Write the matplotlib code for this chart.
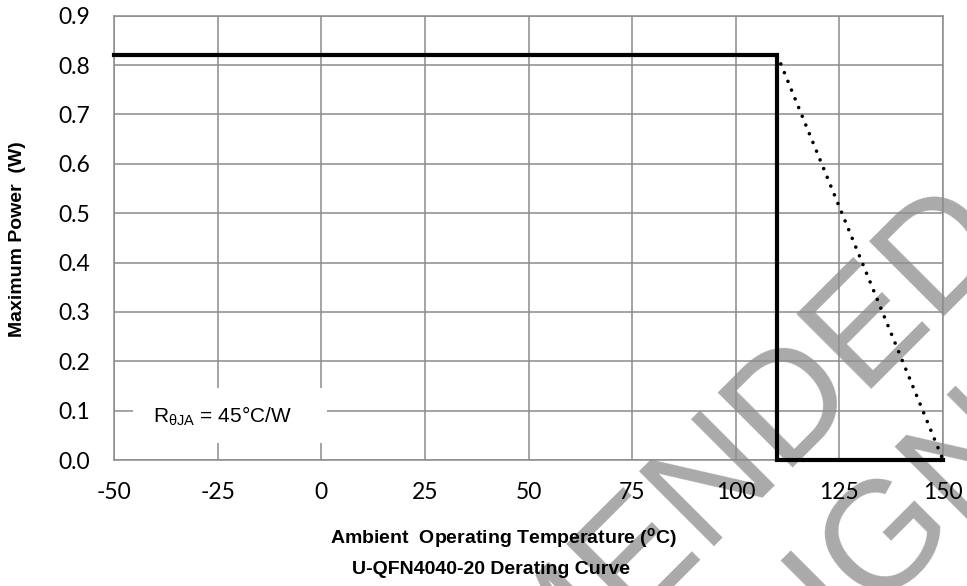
import matplotlib
matplotlib.use('Agg')
import matplotlib.pyplot as plt
from matplotlib.patches import Rectangle

# derating curve data
temp_limit = [-50, 110, 110, 150]
power_limit = [0.82, 0.82, 0.0, 0.0]
temp_derate = [110, 150]
power_derate = [0.82, 0.0]

x_ticks = [-50, -25, 0, 25, 50, 75, 100, 125, 150]
y_ticks = [0.0, 0.1, 0.2, 0.3, 0.4, 0.5, 0.6, 0.7, 0.8, 0.9]

grid_col = '#8c8c8c'

fig = plt.figure(figsize=(9.67, 5.86), dpi=100)
ax = fig.add_axes([0.1179, 0.215, 0.9752 - 0.1179, 0.9732 - 0.215])
ax.set_facecolor('none')

# watermark behind the chart
wm = dict(rotation=45, rotation_mode='anchor', ha='right', va='baseline',
          fontsize=111, color='#aaaaaa', family='Liberation Sans', zorder=-5)
fig.text(1014 / 967, 1 - 246 / 586, 'NOT RECOMMENDED', **wm)
fig.text(1040 / 967, 1 - 451 / 586, 'FOR NEW DESIGN', **wm)

ax.plot(temp_limit, power_limit, color='black', lw=3, solid_joinstyle='miter', zorder=4, clip_on=False)
ax.plot(temp_derate, power_derate, color='black', lw=2.6, linestyle=(0, (0.01, 2.6)),
        dash_capstyle='round', zorder=4, clip_on=False)

ax.set_xlim(-50, 150)
ax.set_ylim(0, 0.9)
ax.set_xticks(x_ticks)
ax.set_yticks(y_ticks)
ax.set_xticklabels([str(t) for t in x_ticks])
ax.set_yticklabels(['%.1f' % v for v in y_ticks])
ax.tick_params(length=0, labelsize=16.5, pad=17)
for lab in ax.get_xticklabels() + ax.get_yticklabels():
    lab.set_family('Lato')
ax.tick_params(axis='x', pad=16)

ax.grid(True, color=grid_col, lw=1.1)
ax.set_axisbelow(True)
for s in ax.spines.values():
    s.set_color(grid_col)
    s.set_linewidth(1.1)

# label box for the thermal resistance note
ax.add_patch(Rectangle((-45.4, 0.0344), 46.8, 0.1115, fc='white', ec='none', zorder=2))
ax.text(-40.6, 0.075, r'R$\mathregular{_{\theta JA}}$ = 45°C/W', family='Liberation Sans',
        fontsize=15, va='baseline', ha='left', zorder=3)

fig.text(18 / 967, 1 - 239 / 586, 'Maximum Power  (W)', rotation=90, ha='center', va='center',
         fontsize=14, fontweight='bold', family='Liberation Sans')
fig.text(503 / 967, 1 - 538 / 586, r'Ambient  Operating Temperature ($\mathregular{^o}$C)',
         ha='center', va='center', fontsize=14, fontweight='bold', family='Liberation Sans')
fig.text(491 / 967, 1 - 569 / 586, 'U-QFN4040-20 Derating Curve',
         ha='center', va='center', fontsize=14, fontweight='bold', family='Liberation Sans')

fig.savefig('out.png', dpi=100)
